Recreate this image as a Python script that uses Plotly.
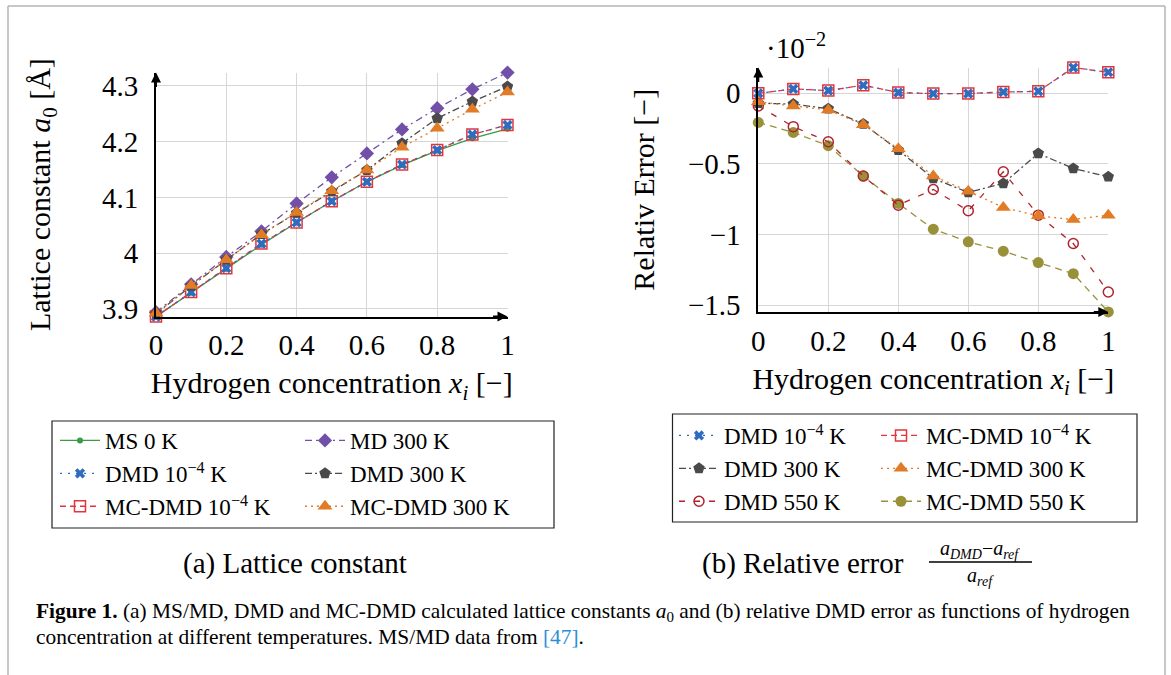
import plotly.graph_objects as go

# ---------------- data ----------------
x_conc = [0.0, 0.1, 0.2, 0.3, 0.4, 0.5, 0.6, 0.7, 0.8, 0.9, 1.0]

# (a) lattice constant a0 [Angstrom]
ms_0k = [3.886, 3.929, 3.972, 4.015, 4.055, 4.093, 4.128, 4.158, 4.184, 4.206, 4.223]
md_300k = [3.894, 3.944, 3.993, 4.039, 4.089, 4.136, 4.179, 4.222, 4.260, 4.294, 4.324]
dmd_low = [3.886, 3.930, 3.973, 4.017, 4.055, 4.093, 4.128, 4.159, 4.185, 4.213, 4.230]
mcdmd_low = [3.886, 3.930, 3.973, 4.017, 4.055, 4.093, 4.128, 4.159, 4.185, 4.213, 4.230]
dmd_300k = [3.891, 3.941, 3.988, 4.034, 4.072, 4.111, 4.149, 4.197, 4.242, 4.272, 4.299]
mcdmd_300k = [3.892, 3.942, 3.988, 4.033, 4.073, 4.112, 4.149, 4.190, 4.224, 4.258, 4.289]

# (b) relative error (x 10^-2)
err_dmd_low = [0.0, 0.031, 0.019, 0.057, 0.005, -0.002, -0.002, 0.009, 0.014, 0.182, 0.149]
err_mcdmd_low = [0.0, 0.031, 0.019, 0.057, 0.005, -0.002, -0.002, 0.009, 0.014, 0.182, 0.149]
err_dmd_300k = [-0.07, -0.076, -0.109, -0.217, -0.402, -0.603, -0.702, -0.638, -0.426, -0.532, -0.591]
err_mcdmd_300k = [-0.06, -0.09, -0.118, -0.222, -0.392, -0.586, -0.693, -0.809, -0.868, -0.894, -0.863]
err_dmd_550k = [-0.09, -0.236, -0.343, -0.586, -0.792, -0.681, -0.832, -0.556, -0.863, -1.064, -1.407]
err_mcdmd_550k = [-0.206, -0.277, -0.371, -0.586, -0.780, -0.962, -1.052, -1.118, -1.199, -1.277, -1.548]

x_tickvals = [0, 0.2, 0.4, 0.6, 0.8, 1]
x_ticktext = ["0", "0.2", "0.4", "0.6", "0.8", "1"]
ya_tickvals = [3.9, 4.0, 4.1, 4.2, 4.3]
ya_ticktext = ["3.9", "4", "4.1", "4.2", "4.3"]
yb_tickvals = [0, -0.5, -1, -1.5]
yb_ticktext = ["0", "\u22120.5", "\u22121", "\u22121.5"]

# ---------------- style ----------------
W, H = 1171, 675
SERIF = "Liberation Serif"
C_GREEN = "#3a9a46"
C_PURPLE = "#7350a8"
C_BLUE = "#2f6bbf"
C_GRAY = "#4a4a4a"
C_RED = "#e2363c"
C_ORANGE = "#e27b26"
C_DRED = "#b0232d"
C_OLIVE = "#99913a"
LEG_FONT = dict(family=SERIF, size=23, color="black")


def px_x(p):
    return p / W


def px_y(p):
    return 1 - p / H


fig = go.Figure()


def add(xv, yv, name, color, dash, symbol, size, xa, ya, legend, open_marker=False, lw=1.3):
    marker = dict(symbol=symbol, size=size, color=color)
    if open_marker:
        marker["line"] = dict(color=color, width=1.5)
    else:
        marker["line"] = dict(width=0)
    fig.add_trace(go.Scatter(
        x=xv, y=yv, name=name, mode="lines+markers",
        line=dict(color=color, dash=dash, width=lw),
        marker=marker, xaxis=xa, yaxis=ya, legend=legend,
        cliponaxis=False,
    ))


K_LOW = "10<sup>\u22124</sup> K"

# (a) traces
add(x_conc, ms_0k, "MS 0 K", C_GREEN, "solid", "circle", 6, "x", "y", "legend")
add(x_conc, md_300k, "MD 300 K", C_PURPLE, "7px,4px,2px,4px", "diamond", 11, "x", "y", "legend2")
add(x_conc, mcdmd_low, "MC-DMD " + K_LOW, C_RED, "6px,4px", "square-open", 11, "x", "y", "legend", open_marker=True)
add(x_conc, dmd_low, "DMD " + K_LOW, C_BLUE, "2px,6px", "x", 9, "x", "y", "legend")
add(x_conc, dmd_300k, "DMD 300 K", C_GRAY, "7px,3px,2px,3px", "pentagon", 12, "x", "y", "legend2")
add(x_conc, mcdmd_300k, "MC-DMD 300 K", C_ORANGE, "2px,4px", "triangle-up", 13, "x", "y", "legend2")

# (b) traces
add(x_conc, err_mcdmd_550k, "MC-DMD 550 K", C_OLIVE, "7px,5px", "circle", 11, "x2", "y2", "legend4")
add(x_conc, err_dmd_550k, "DMD 550 K", C_DRED, "6px,9px", "circle-open", 10, "x2", "y2", "legend3", open_marker=True)
add(x_conc, err_dmd_300k, "DMD 300 K", C_GRAY, "7px,3px,2px,3px", "pentagon", 12, "x2", "y2", "legend3")
add(x_conc, err_mcdmd_300k, "MC-DMD 300 K", C_ORANGE, "2px,4px", "triangle-up", 13, "x2", "y2", "legend4")
add(x_conc, err_mcdmd_low, "MC-DMD " + K_LOW, C_RED, "6px,4px", "square-open", 11, "x2", "y2", "legend4", open_marker=True)
add(x_conc, err_dmd_low, "DMD " + K_LOW, C_BLUE, "2px,6px", "x", 9, "x2", "y2", "legend3")

# legend ranks so entries appear in the reference order within each column
rank_a = {"MS 0 K": 1, "MD 300 K": 1, "DMD " + K_LOW: 2, "DMD 300 K": 2,
          "MC-DMD " + K_LOW: 3, "MC-DMD 300 K": 3}
rank_b = {"DMD " + K_LOW: 1, "MC-DMD " + K_LOW: 1, "DMD 300 K": 2,
          "MC-DMD 300 K": 2, "DMD 550 K": 3, "MC-DMD 550 K": 3}
for tr in fig.data:
    tr.legendrank = (rank_b if tr.xaxis == "x2" else rank_a)[tr.name]

all_a = ms_0k + md_300k + dmd_low + mcdmd_low + dmd_300k + mcdmd_300k
all_b = err_dmd_low + err_mcdmd_low + err_dmd_300k + err_mcdmd_300k + err_dmd_550k + err_mcdmd_550k

TICKFONT = dict(family=SERIF, size=29, color="black")
TITLEFONT = dict(family=SERIF, size=30, color="black")
GRID = "#d6d6d6"

common_x = dict(range=[min(x_conc), max(x_conc)], tickmode="array", tickvals=x_tickvals, ticktext=x_ticktext,
                showgrid=True, gridcolor=GRID, gridwidth=1.2, zeroline=False, showline=True,
                linecolor="black", linewidth=2, ticks="", tickfont=TICKFONT, ticklabelstandoff=2,
                automargin=False,
                title=dict(text="Hydrogen concentration <i>x</i><sub><i>i</i></sub> [\u2212]", font=TITLEFONT, standoff=12))
common_y = dict(showgrid=True, gridcolor=GRID, gridwidth=1.2, zeroline=False, showline=True,
                linecolor="black", linewidth=2, ticks="", tickfont=TICKFONT, ticklabelstandoff=10,
                automargin=False, tickmode="array")

leg_top_a = px_y(419)
leg_top_b = px_y(414)

fig.update_layout(
    width=W, height=H,
    margin=dict(l=0, r=0, t=0, b=0),
    paper_bgcolor="white", plot_bgcolor="white",
    font=dict(family=SERIF, color="black"),
    xaxis=dict(domain=[px_x(156), px_x(507.5)], anchor="y", **common_x),
    yaxis=dict(domain=[px_y(316.6), px_y(72.6)], anchor="x", range=[min(all_a), max(all_a)],
               tickvals=ya_tickvals, ticktext=ya_ticktext,
               title=dict(text="Lattice constant <i>a</i><sub>0</sub> [\u00c5]", font=TITLEFONT, standoff=42),
               **common_y),
    xaxis2=dict(domain=[px_x(758.3), px_x(1108.3)], anchor="y2", **common_x),
    yaxis2=dict(domain=[px_y(311.9), px_y(67.6)], anchor="x2", range=[min(all_b), max(all_b)],
                tickvals=yb_tickvals, ticktext=yb_ticktext,
                title=dict(text="Relativ Error [\u2212]", font=TITLEFONT, standoff=24),
                **common_y),
    legend=dict(x=px_x(55), y=leg_top_a, xanchor="left", yanchor="top", orientation="v",
                font=LEG_FONT, bgcolor="rgba(0,0,0,0)", borderwidth=0, traceorder="normal", itemwidth=40),
    legend2=dict(x=px_x(300), y=leg_top_a, xanchor="left", yanchor="top", orientation="v",
                 font=LEG_FONT, bgcolor="rgba(0,0,0,0)", borderwidth=0, traceorder="normal", itemwidth=40),
    legend3=dict(x=px_x(674), y=leg_top_b, xanchor="left", yanchor="top", orientation="v",
                 font=LEG_FONT, bgcolor="rgba(0,0,0,0)", borderwidth=0, traceorder="normal", itemwidth=40),
    legend4=dict(x=px_x(876), y=leg_top_b, xanchor="left", yanchor="top", orientation="v",
                 font=LEG_FONT, bgcolor="rgba(0,0,0,0)", borderwidth=0, traceorder="normal", itemwidth=40),
    showlegend=True,
)

shapes = [
    # page frame
    dict(type="line", xref="paper", yref="paper", x0=px_x(8), x1=px_x(1165), y0=px_y(6), y1=px_y(6),
         line=dict(color="#b4b4b4", width=1.5)),
    dict(type="line", xref="paper", yref="paper", x0=px_x(8), x1=px_x(8), y0=px_y(6), y1=0,
         line=dict(color="#b4b4b4", width=1.5)),
    dict(type="line", xref="paper", yref="paper", x0=px_x(1165), x1=px_x(1165), y0=px_y(6), y1=0,
         line=dict(color="#b4b4b4", width=1.5)),
    # legend boxes
    dict(type="rect", xref="paper", yref="paper", x0=px_x(52), x1=px_x(554), y0=px_y(421), y1=px_y(528),
         line=dict(color="#222", width=1.2)),
    dict(type="rect", xref="paper", yref="paper", x0=px_x(672.5), x1=px_x(1137), y0=px_y(414), y1=px_y(522),
         line=dict(color="#222", width=1.2)),
    # fraction bar in subcaption (b)
    dict(type="line", xref="paper", yref="paper", x0=px_x(929), x1=px_x(1032), y0=px_y(562), y1=px_y(562),
         line=dict(color="black", width=1.5)),
]
fig.update_layout(shapes=shapes)

ann = []
# axis arrows
for xa, ya in (("x", "y"), ("x2", "y2")):
    ann.append(dict(x=1, y=0, xref=xa + " domain", yref=ya + " domain", ax=-16, ay=0, text="",
                    showarrow=True, arrowhead=2, arrowsize=1, arrowwidth=2, arrowcolor="black", standoff=0))
    ann.append(dict(x=0, y=1, xref=xa + " domain", yref=ya + " domain", ax=0, ay=16, text="",
                    showarrow=True, arrowhead=2, arrowsize=1, arrowwidth=2, arrowcolor="black", standoff=0))

ann += [
    dict(x=px_x(764), y=px_y(46), xref="paper", yref="paper", xanchor="left", yanchor="middle",
         text="\u00b710<sup>\u22122</sup>", showarrow=False, font=dict(family=SERIF, size=29, color="black")),
    dict(x=px_x(295), y=px_y(563), xref="paper", yref="paper", xanchor="center", yanchor="middle",
         text="(a) Lattice constant", showarrow=False, font=dict(family=SERIF, size=29, color="black")),
    dict(x=px_x(906), y=px_y(563), xref="paper", yref="paper", xanchor="right", yanchor="middle",
         text="(b) Relative error", showarrow=False, font=dict(family=SERIF, size=29, color="black")),
    dict(x=px_x(980), y=px_y(549), xref="paper", yref="paper", xanchor="center", yanchor="middle",
         text="<i>a</i><sub><i>DMD</i></sub>\u2212<i>a</i><sub><i>ref</i></sub>", showarrow=False,
         font=dict(family=SERIF, size=20, color="black")),
    dict(x=px_x(980), y=px_y(576), xref="paper", yref="paper", xanchor="center", yanchor="middle",
         text="<i>a</i><sub><i>ref</i></sub>", showarrow=False,
         font=dict(family=SERIF, size=20, color="black")),
    dict(x=px_x(34), y=px_y(612), xref="paper", yref="paper", xanchor="left", yanchor="middle",
         text="<b>Figure 1.</b> (a) MS/MD, DMD and MC-DMD calculated lattice constants <i>a</i><sub>0</sub> and (b) relative DMD error as functions of hydrogen",
         showarrow=False, font=dict(family=SERIF, size=21.4, color="black")),
    dict(x=px_x(34), y=px_y(637), xref="paper", yref="paper", xanchor="left", yanchor="middle",
         text="concentration at different temperatures. MS/MD data from <span style='color:#2a8fd6'>[47]</span>.",
         showarrow=False, font=dict(family=SERIF, size=21.4, color="black")),
]
fig.update_layout(annotations=ann)

fig.write_html("out.html")
